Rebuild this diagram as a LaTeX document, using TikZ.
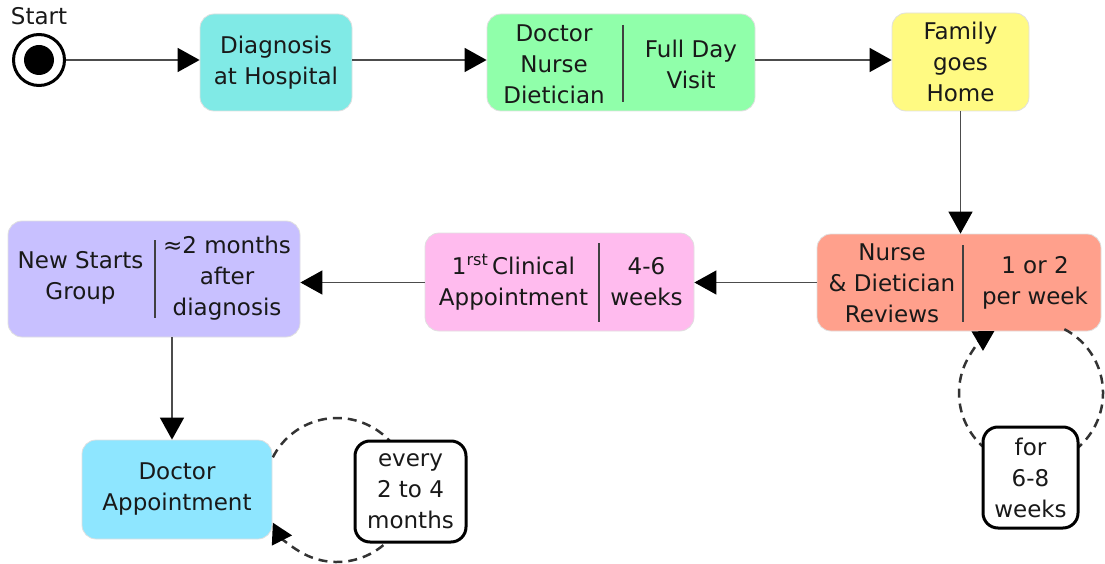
\documentclass[tikz,border=0pt]{standalone}
\usepackage{fontspec}
\setmainfont{DejaVu Sans}
\usetikzlibrary{arrows.meta}
\definecolor{cDiag}{RGB}{128,234,230}
\definecolor{cGreen}{RGB}{144,255,170}
\definecolor{cYellow}{RGB}{255,250,130}
\definecolor{cSalmon}{RGB}{255,160,140}
\definecolor{cPink}{RGB}{255,187,238}
\definecolor{cPurple}{RGB}{200,192,255}
\definecolor{cBlue}{RGB}{142,230,255}
\tikzset{
  box/.style={rounded corners=14pt, draw=black!12, line width=0.8pt, inner sep=0pt,
    align=center, text=black!90},
  txt/.style={align=center, text=black!90, inner sep=0pt},
  conn/.style={draw=black!70, line width=1.5pt, -{Triangle[length=22pt,width=24pt,color=black]}},
  loopline/.style={draw=black!80, line width=2.5pt, dash pattern=on 9pt off 6pt,
    -{Triangle[length=20pt,width=22pt,color=black]}},
  divider/.style={draw=black!75, line width=1.5pt},
  lbl/.style={rounded corners=15pt, draw=black, line width=3pt, fill=white, inner sep=0pt,
    align=center, text=black!90}
}
\begin{document}
\begin{tikzpicture}[x=1pt,y=-1pt,font=\fontsize{23}{31}\selectfont]
\useasboundingbox (0,0) rectangle (1105,564);
% start
\node[txt] (startlbl) at (39,16) {Start};
\node[circle, draw=black, line width=3pt, minimum size=51pt, fill=white, inner sep=0pt] (start) at (39,60) {};
\node[circle, fill=black, minimum size=30pt, inner sep=0pt] (startdot) at (start) {};
% top row
\node[box, fill=cDiag, minimum width=152pt, minimum height=97pt] (diag) at (276,62.5) {Diagnosis\\at Hospital};
\node[box, fill=cGreen, minimum width=268pt, minimum height=97pt] (dnd) at (621,62.5) {};
\node[txt] (dndL) at (554,64) {Doctor\\Nurse\\Dietician};
\node[txt] (dndR) at (691,64) {Full Day\\Visit};
\draw[divider] (623,25) -- (623,102);
\node[box, fill=cYellow, minimum width=137pt, minimum height=98pt] (home) at (960.5,62) {Family\\goes\\Home};
% middle row
\node[box, fill=cSalmon, minimum width=284pt, minimum height=97pt] (nurse) at (959,282.5) {};
\node[txt] (nurseL) at (892,283) {Nurse\\\&~Dietician\\Reviews};
\node[txt] (nurseR) at (1035,283) {1 or 2\\per week};
\draw[divider] (963,245) -- (963,322);
\node[box, fill=cPink, minimum width=269pt, minimum height=98pt] (clin) at (559.5,282) {};
\node[txt] (clinL) at (513.5,282) {1\textsuperscript{rst}\,Clinical\\Appointment};
\node[txt] (clinR) at (646.5,282) {4-6\\weeks};
\draw[divider] (599,243) -- (599,322);
\node[box, fill=cPurple, minimum width=292pt, minimum height=116pt] (news) at (154,279) {};
\node[txt] (newsL) at (80.5,278) {New Starts\\Group};
\node[txt] (newsR) at (227,278) {\fontspec{DejaVu Sans}≈2 months\\after\\diagnosis};
\draw[divider] (155,240) -- (155,318);
% bottom
\node[box, fill=cBlue, minimum width=190pt, minimum height=99pt] (doc) at (177,489.5) {Doctor\\Appointment};
% connectors
\draw[conn] (start.east) -- (start.east -| diag.west);
\draw[conn] (diag.east |- start.east) -- (dnd.west |- start.east);
\draw[conn] (dnd.east |- start.east) -- (home.west |- start.east);
\draw[conn] (home.south) -- (nurse.north -| home.south);
\draw[conn] (nurse.west) -- (clin.east |- nurse.west);
\draw[conn] (clin.west |- nurse.west) -- (news.east |- nurse.west);
\draw[conn] (news.south -| 172,0) -- (doc.north -| 172,0);
% loops
\coordinate (dloop) at (337,490);
\draw[loopline] (dloop) ++(207:72) arc[start angle=207, end angle=513, radius=72];
\node[lbl, minimum width=111pt, minimum height=101pt] (every) at (410.5,491.5) {every\\2 to 4\\months};
\coordinate (nloop) at (1031,393);
\draw[loopline] (nloop) ++(297.6:72) arc[start angle=297.6, end angle=599.5, radius=72];
\node[lbl, minimum width=95pt, minimum height=101pt] (forw) at (1030.5,477.5) {for\\6-8\\weeks};
\end{tikzpicture}
\end{document}
